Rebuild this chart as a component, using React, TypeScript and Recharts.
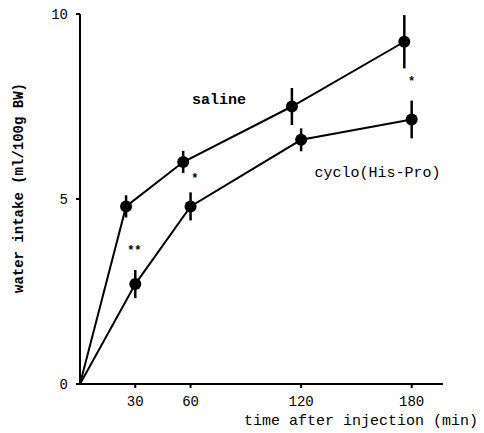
import { ComposedChart, Line, XAxis, YAxis, ErrorBar, Scatter } from "recharts"

// minutes after injection
const salineTime = [0, 25, 56, 115, 176]
const salineIntake = [0, 4.8, 6.0, 7.5, 9.25]
const salineSem = [0, 0.3, 0.3, 0.5, 0.72]

const cycloTime = [0, 30, 60, 120, 180]
const cycloIntake = [0, 2.7, 4.8, 6.6, 7.15]
const cycloSem = [0, 0.38, 0.38, 0.31, 0.51]

const xTicks = [30, 60, 120, 180]
const yTicks = [0, 5, 10]

// significance marks
const starTime = [29.5, 62.3, 180]
const starLevel = [3.6, 5.55, 8.15]
const starText = ["**", "*", "*"]

// series names placed in the plot
const nameTime = [75.4, 161.5]
const nameLevel = [7.65, 5.7]
const nameText = ["saline", "cyclo(His-Pro)"]
const nameWeight = ["bold", "normal"]

const saline = salineTime.map((t, i) => ({ t, v: salineIntake[i], err: salineSem[i] }))
const cyclo = cycloTime.map((t, i) => ({ t, v: cycloIntake[i], err: cycloSem[i] }))
const stars = starTime.map((t, i) => ({ t, v: starLevel[i], text: starText[i], weight: "bold" }))
const names = nameTime.map((t, i) => ({ t, v: nameLevel[i], text: nameText[i], weight: nameWeight[i] }))

const FONT = "'Liberation Mono', 'DejaVu Sans Mono', monospace"

const renderDot = (props: any) => {
  const { cx, cy, payload, index } = props
  if (payload.t === 0) return <g key={index} />
  return <circle key={index} cx={cx} cy={cy} r={6} fill="#000" />
}

const textShape = (size: number) => (props: any) => (
  <text
    x={props.cx}
    y={props.cy}
    textAnchor="middle"
    dominantBaseline="central"
    fontFamily={FONT}
    fontWeight={props.payload.weight}
    fontSize={size}
    fill="#000"
  >
    {props.payload.text}
  </text>
)

export default function App() {
  return (
    <div style={{ position: "absolute", left: 0, top: 0, background: "#fff" }}>
      <ComposedChart width={484} height={433} margin={{ top: 14, right: 41, left: 0, bottom: 0 }}>
        <XAxis
          type="number"
          dataKey="t"
          domain={[0, 197]}
          ticks={xTicks}
          allowDataOverflow
          height={49}
          stroke="#000"
          strokeWidth={2}
          tickSize={4}
          tickMargin={8}
          tick={{ fill: "#000", fontFamily: FONT, fontSize: 14 }}
          label={{
            content: () => (
              <text x={361} y={421} textAnchor="middle" dominantBaseline="central" fontFamily={FONT} fontSize={15} fill="#000">
                time after injection (min)
              </text>
            ),
          }}
        />
        <YAxis
          type="number"
          domain={[0, 10]}
          ticks={yTicks}
          width={80}
          stroke="#000"
          strokeWidth={2}
          tickSize={4}
          tickMargin={8}
          tick={{ fill: "#000", fontFamily: FONT, fontSize: 14 }}
          label={{
            content: () => (
              <text x={19} y={188} transform="rotate(-90 19 188)" textAnchor="middle" dominantBaseline="central" fontFamily={FONT} fontWeight="bold" fontSize={14} fill="#000">
                water intake (ml/100g BW)
              </text>
            ),
          }}
        />
        <Line data={saline} dataKey="v" stroke="#000" strokeWidth={2} dot={renderDot} activeDot={false} isAnimationActive={false}>
          <ErrorBar dataKey="err" direction="y" width={0} stroke="#000" strokeWidth={2.5} />
        </Line>
        <Line data={cyclo} dataKey="v" stroke="#000" strokeWidth={2} dot={renderDot} activeDot={false} isAnimationActive={false}>
          <ErrorBar dataKey="err" direction="y" width={0} stroke="#000" strokeWidth={2.5} />
        </Line>
        <Scatter data={stars} dataKey="v" shape={textShape(12)} isAnimationActive={false} />
        <Scatter data={names} dataKey="v" shape={textShape(15)} isAnimationActive={false} />
      </ComposedChart>
    </div>
  )
}
